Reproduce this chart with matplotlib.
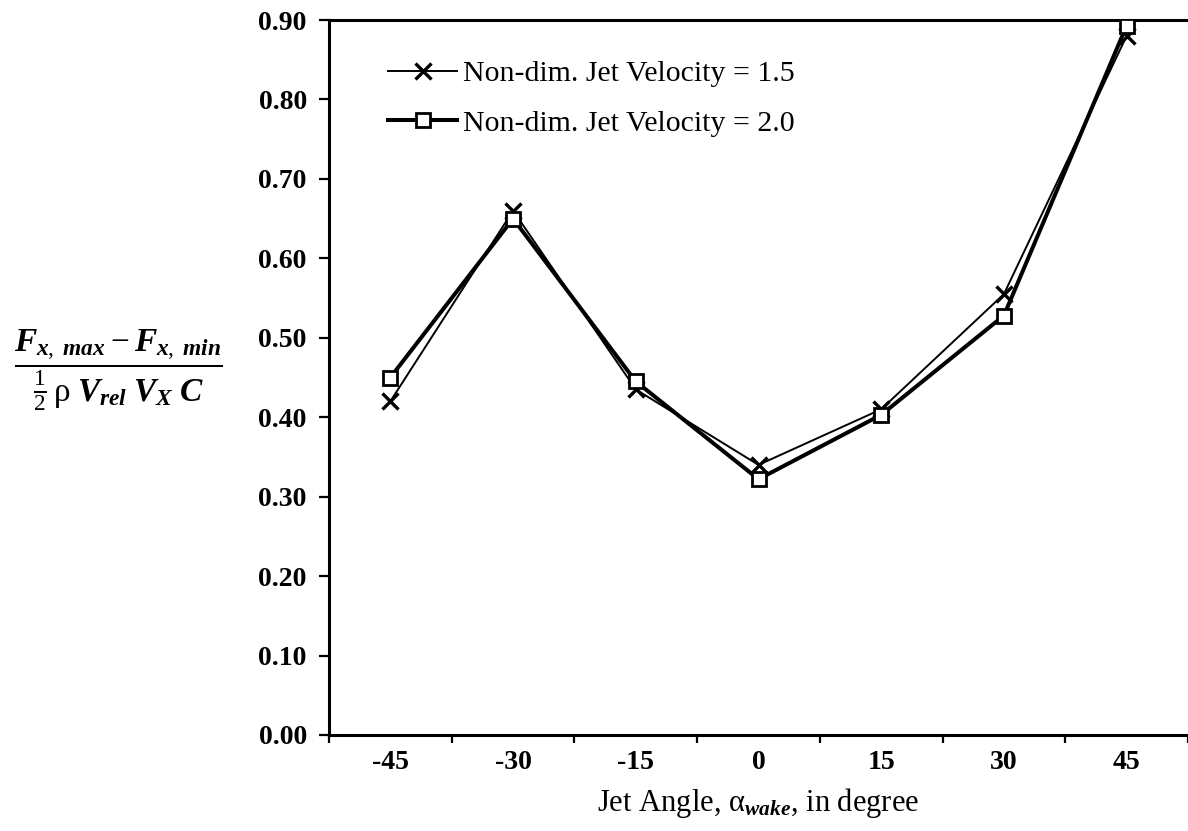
import matplotlib
matplotlib.use("Agg")
import matplotlib.pyplot as plt
import numpy as np

# Jet angle categories and force-amplitude values for two jet velocities
angles = ["-45", "-30", "-15", "0", "15", "30", "45"]
vel_15 = [0.420, 0.660, 0.435, 0.340, 0.410, 0.555, 0.880]
vel_20 = [0.450, 0.650, 0.445, 0.322, 0.403, 0.528, 0.893]
y_ticks = [0.0, 0.1, 0.2, 0.3, 0.4, 0.5, 0.6, 0.7, 0.8, 0.9]

plt.rcParams["font.family"] = ["Liberation Serif", "DejaVu Serif"]
plt.rcParams["mathtext.fontset"] = "custom"
plt.rcParams["mathtext.rm"] = "Liberation Serif"
plt.rcParams["mathtext.it"] = "Liberation Serif:italic:bold"
plt.rcParams["mathtext.bf"] = "Liberation Serif:bold"

W, H = 1188, 831
fig = plt.figure(figsize=(W / 100, H / 100), dpi=100)
ax = fig.add_axes([329 / W, 1 - 735 / H, (1188 - 329) / W, (735 - 20) / H])

x = np.arange(len(angles))
ax.plot(x, vel_15, color="black", lw=1.4, marker="x", ms=11, mew=2.4,
        label="Non-dim. Jet Velocity = 1.5", zorder=3)
ax.plot(x, vel_20, color="black", lw=2.9, marker="s", ms=10, mew=2.0,
        mfc="white", label="Non-dim. Jet Velocity = 2.0", zorder=4)

ax.set_xlim(-0.5, len(angles) - 0.5)
ax.set_ylim(0, 0.9)
ax.set_yticks(y_ticks)
ax.set_yticklabels([f"{v:.2f}" for v in y_ticks], fontweight="bold")
ax.set_xticks(x)
ax.set_xticklabels(angles, fontweight="bold")
# category boundary ticks on the x axis
ax.set_xticks(np.arange(-0.5, len(angles) + 0.5, 1.0), minor=True)
ax.tick_params(axis="x", which="major", length=0, pad=11, labelsize=20)
ax.tick_params(axis="x", which="minor", length=6, width=1.6, direction="out")
ax.tick_params(axis="y", length=7, width=1.6, direction="out", pad=9, labelsize=20)

for side in ("left", "bottom", "top"):
    ax.spines[side].set_linewidth(2.2)
ax.spines["right"].set_visible(False)

ax.set_xlabel(r"Jet Angle, $\mathrm{\alpha}_{wake}$, in degree", fontsize=22, labelpad=8)

fig.text(0.100, 1 - 370 / H,
         r"$\dfrac{F_{x,\;max} - F_{x,\;min}}{\frac{1}{2}\,\mathrm{\rho}\;V_{rel}\;V_X\;C}$",
         fontsize=24, ha="center", va="center")

leg = ax.legend(loc="upper left", bbox_to_anchor=(0.055, 0.96), frameon=False,
                fontsize=21.5, handlelength=2.3, handletextpad=0.2,
                labelspacing=0.75, borderaxespad=0)

fig.savefig("out.png", dpi=100, facecolor="white")
